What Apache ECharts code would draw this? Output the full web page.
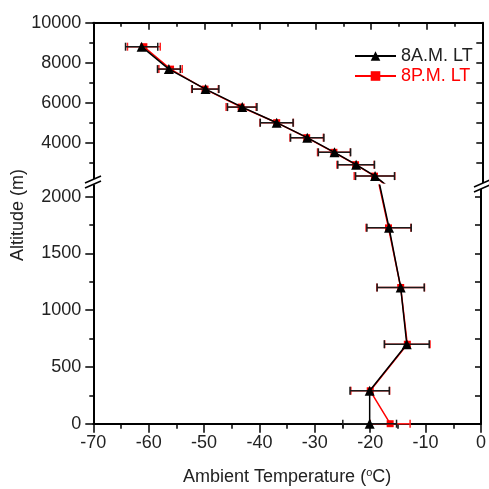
<!DOCTYPE html>
<html><head><meta charset="utf-8">
<script src="https://cdn.jsdelivr.net/npm/echarts@6/dist/echarts.min.js"></script>
<style>html,body{margin:0;padding:0;background:#fff}#c{width:489px;height:489px}</style>
</head><body><div id="c"></div>
<script>
// ---- data ----
const seriesNames = ['8A.M. LT', '8P.M. LT'];
const amAlt  = [8800, 7680, 6680, 5780, 5000, 4250, 3520, 2900, 2330, 1725, 1200, 700, 290, 0];
const amTemp = [-61.3, -56.4, -49.8, -43.2, -37.0, -31.5, -26.6, -22.7, -19.3, -16.6, -14.5, -13.4, -20.1, -20.1];
const amErr  = [2.9, 2.05, 2.4, 2.65, 2.95, 3.0, 2.9, 3.3, 3.5, 4.0, 4.25, 4.05, 3.55, 4.85];
const pmAlt  = [8800, 7680, 6680, 5780, 5000, 4250, 3520, 2900, 2330, 1725, 1200, 700, 290, 0];
const pmTemp = [-60.9, -56.1, -49.9, -43.4, -37.0, -31.6, -26.7, -22.8, -19.4, -16.7, -14.5, -13.3, -20.0, -16.4];
const pmErr  = [2.95, 2.1, 2.4, 2.7, 3.0, 3.0, 2.95, 3.35, 3.65, 4.05, 4.3, 4.1, 3.5, 3.6];
const xTickLabels = [-70, -60, -50, -40, -30, -20, -10, 0];
const upperMajor = [4000, 6000, 8000, 10000];
const upperMinor = [3000, 5000, 7000, 9000];
const upperRight = [3000, 4000, 5000, 6000, 7000, 8000, 9000];
const lowerMajor = [0, 500, 1000, 1500, 2000];
const lowerMinor = [250, 750, 1250, 1750];
const lowerRight = [250, 500, 750, 1000, 1250, 1500, 1750, 2000];
const xAxisTitle = 'Ambient Temperature ({sup|o}C)';
const yAxisTitle = 'Altitude (m)';

// ---- chart ----
const FONT = 'Liberation Sans, Arial, sans-serif';
const TXT = '#222';
const chart = echarts.init(document.getElementById('c'), null, {renderer: 'canvas'});

const gridLeft = 93.3, gridRight = 489 - 482.3;
const UPPER = {min: 2000, max: 10000};
const LOWER = {min: 0, max: 2100};

function pairs(t, a, e) { return t.map((v, i) => [v, a[i], e[i]]); }
const amData = pairs(amTemp, amAlt, amErr);
const pmData = pairs(pmTemp, pmAlt, pmErr);

function errRender(color) {
  return function (params, api) {
    const x = api.value(0), y = api.value(1), e = api.value(2);
    const p1 = api.coord([x - e, y]), p2 = api.coord([x + e, y]);
    const c = 4;
    const style = {stroke: color, lineWidth: 1.5, fill: null};
    return {type: 'group', children: [
      {type: 'line', shape: {x1: p1[0], y1: p1[1], x2: p2[0], y2: p2[1]}, style},
      {type: 'line', shape: {x1: p1[0], y1: p1[1] - c, x2: p1[0], y2: p1[1] + c}, style},
      {type: 'line', shape: {x1: p2[0], y1: p2[1] - c, x2: p2[0], y2: p2[1] + c}, style}
    ]};
  };
}

function yAx(grid, pos, range, ticks, len, inside, labels, showLine) {
  return {
    type: 'value', gridIndex: grid, position: pos, min: range.min, max: range.max,
    axisLine: {show: showLine, onZero: false, lineStyle: {color: '#000', width: 2}},
    axisTick: {show: true, inside: inside, length: len, customValues: ticks, lineStyle: {color: '#000', width: 1.5}},
    axisLabel: labels ? {show: true, customValues: ticks, fontSize: 18, fontFamily: FONT, color: TXT, margin: 12,
      formatter: v => String(v)} : {show: false},
    splitLine: {show: false}
  };
}

const yAxes = [
  yAx(0, 'left', UPPER, upperMajor, 8, false, true, true),   // 0
  yAx(0, 'left', UPPER, upperMinor, 4, false, false, false), // 1
  yAx(0, 'right', UPPER, upperRight, 6, true, false, true),  // 2
  yAx(1, 'left', LOWER, lowerMajor, 8, false, true, true),   // 3
  yAx(1, 'left', LOWER, lowerMinor, 4, false, false, false), // 4
  yAx(1, 'right', LOWER, lowerRight, 6, true, false, true)   // 5
];

const xAxes = [
  {type: 'value', gridIndex: 0, position: 'top', min: -70, max: 0, interval: 10,
   axisLine: {show: true, onZero: false, lineStyle: {color: '#000', width: 2}},
   axisTick: {show: true, inside: true, length: 7, lineStyle: {color: '#000', width: 1.5}},
   minorTick: {show: true, splitNumber: 2, length: 4, lineStyle: {color: '#000', width: 1.5}},
   axisLabel: {show: false}, splitLine: {show: false}},
  {type: 'value', gridIndex: 1, position: 'bottom', min: -70, max: 0, interval: 10,
   axisLine: {show: true, onZero: false, lineStyle: {color: '#000', width: 2}},
   axisTick: {show: true, inside: false, length: 9, lineStyle: {color: '#000', width: 1.5}},
   minorTick: {show: true, splitNumber: 2, length: 5, lineStyle: {color: '#000', width: 1.5}},
   axisLabel: {show: true, fontSize: 18, fontFamily: FONT, color: TXT, margin: 10,
     customValues: xTickLabels, formatter: v => String(v)},
   splitLine: {show: false},
   name: xAxisTitle, nameLocation: 'middle', nameGap: 44,
   nameTextStyle: {fontSize: 18, fontFamily: FONT, color: TXT,
     rich: {sup: {fontSize: 11, fontFamily: FONT, color: TXT, verticalAlign: 'top', padding: [0, 0, 8, 0]}}}}
];

function lineSeries(name, data, grid, yIdx, color, symbol, size, z) {
  return {type: 'line', name: name, xAxisIndex: grid, yAxisIndex: yIdx, data: data.map(d => [d[0], d[1]]),
    symbol: symbol, symbolSize: size, showSymbol: true, clip: true, z: z,
    lineStyle: {color: color, width: 1.5}, itemStyle: {color: color}, animation: false};
}
function errSeries(name, data, grid, yIdx, range, color, z) {
  return {type: 'custom', name: name, xAxisIndex: grid, yAxisIndex: yIdx,
    data: data.filter(d => d[1] >= range.min && d[1] <= range.max),
    encode: {x: 0, y: 1}, renderItem: errRender(color), z: z, animation: false, silent: true,
    itemStyle: {color: color}};
}

const series = [];
// line series first so the legend takes its icon from them; z keeps drawing order
[[0, 0], [1, 3]].forEach(([g, yi]) => {
  series.push(lineSeries(seriesNames[0], amData, g, yi, '#000000', 'triangle', 10, 5));
  series.push(lineSeries(seriesNames[1], pmData, g, yi, '#ff0000', 'rect', 7, 3));
});
[[0, 0, UPPER], [1, 3, LOWER]].forEach(([g, yi, rg]) => {
  series.push(errSeries(seriesNames[1], pmData, g, yi, rg, '#ff2020', 2));
  series.push(errSeries(seriesNames[0], amData, g, yi, rg, '#1a1a1a', 4));
});

function brk(x0, y0) {
  return [
    {type: 'polygon', shape: {points: [[x0, y0 + 9], [x0 + 16, y0 + 2], [x0 + 16, y0 - 3], [x0, y0 + 4]]}, style: {fill: '#fff'}, z: 100},
    {type: 'line', shape: {x1: x0, y1: y0 + 4, x2: x0 + 16, y2: y0 - 3}, style: {stroke: '#000', lineWidth: 1.5}, z: 101},
    {type: 'line', shape: {x1: x0, y1: y0 + 9, x2: x0 + 16, y2: y0 + 2}, style: {stroke: '#000', lineWidth: 1.5}, z: 101}
  ];
}

chart.setOption({
  animation: false,
  backgroundColor: '#fff',
  grid: [
    {left: gridLeft, right: gridRight, top: 22.7, height: 160},
    {left: gridLeft, right: gridRight, top: 185.3, height: 238.4}
  ],
  xAxis: xAxes,
  yAxis: yAxes,
  legend: {
    orient: 'vertical', left: 349, top: 42, itemWidth: 41, itemHeight: 12, itemGap: 2,
    textStyle: {fontSize: 18, fontFamily: FONT},
    data: [
      {name: seriesNames[0], textStyle: {color: TXT}},
      {name: seriesNames[1], textStyle: {color: '#ff0000'}}
    ],
    selectedMode: false
  },
  series: series,
  graphic: [
    {type: 'text', x: 18, y: 215, rotation: Math.PI / 2,
     style: {text: yAxisTitle, font: '18px ' + FONT, fill: TXT, align: 'center', verticalAlign: 'middle'}},
    ...brk(85, 179),
    ...brk(474, 183)
  ]
});
</script></body></html>
